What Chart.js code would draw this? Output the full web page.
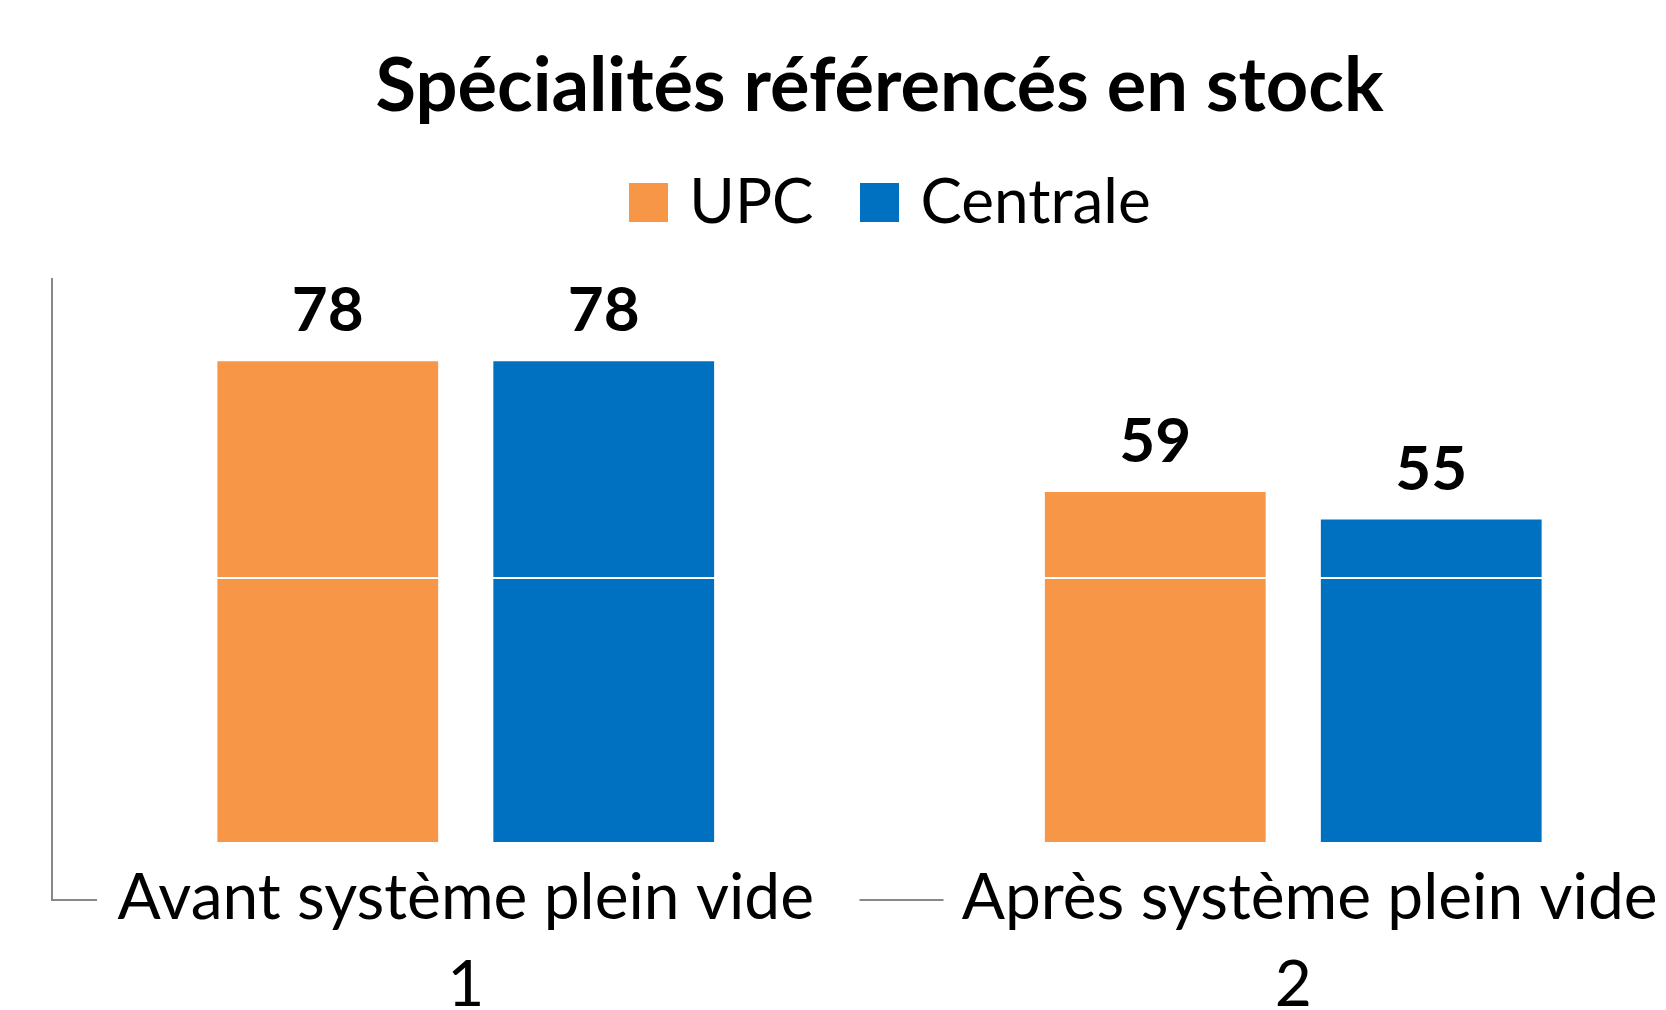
<!DOCTYPE html>
<html>
<head>
<meta charset="utf-8">
<script src="https://cdn.jsdelivr.net/npm/chart.js@4.4.0/dist/chart.umd.min.js"></script>
<style>
  html, body { margin: 0; padding: 0; background: #fff; overflow: hidden; }
  #wrap { width: 1666px; height: 1010px; overflow: hidden; }
</style>
</head>
<body>
<div id="wrap"><canvas id="stockChart" width="1760" height="1010"></canvas></div>
<script>
// data
const categories = [['Avant système plein vide', '1'], ['  Après système plein vide', '2']];
const seriesNames = ['UPC', 'Centrale'];
const seriesColors = ['#F79646', '#0070C0'];
const upcValues = [78, 59];
const centraleValues = [78, 55];
const gridValues = [8, 46.5, 85];

const FONT = 'Lato, "Open Sans", sans-serif';

// square legend markers (lets the text sit closer to the box)
function legendSquare(color) {
  const c = document.createElement('canvas');
  c.width = 39;
  c.height = 39;
  const g = c.getContext('2d');
  g.fillStyle = color;
  g.fillRect(0, 0, 39, 39);
  return c;
}
const legendMarks = seriesColors.map(legendSquare);

// value labels above the bars
const barLabels = {
  id: 'barLabels',
  afterDraw(chart) {
    const ctx = chart.ctx;
    ctx.save();
    ctx.font = 'bold 62px ' + FONT;
    ctx.fillStyle = '#000';
    ctx.textAlign = 'center';
    ctx.textBaseline = 'middle';
    chart.data.datasets.forEach((ds, i) => {
      chart.getDatasetMeta(i).data.forEach((bar, j) => {
        ctx.fillText(ds.data[j], bar.x, bar.y - 50);
      });
    });
    ctx.restore();
  }
};

// excel-like category separators under the axis
const separators = {
  id: 'separators',
  afterDraw(chart) {
    const { ctx, chartArea, scales: { x } } = chart;
    const yMid = chartArea.bottom + 57;
    const mid = (x.getPixelForValue(0) + x.getPixelForValue(1)) / 2;
    ctx.save();
    ctx.strokeStyle = '#888';
    ctx.lineWidth = 2;
    ctx.beginPath();
    ctx.moveTo(chartArea.left, chartArea.bottom);
    ctx.lineTo(chartArea.left, yMid);
    ctx.lineTo(chartArea.left + 45, yMid);
    ctx.moveTo(mid - 20, yMid);
    ctx.lineTo(mid + 64, yMid);
    ctx.stroke();
    ctx.restore();
  }
};

// more room between legend and plot, legend nudged a bit
const legendTweak = {
  id: 'legendTweak',
  beforeInit(chart) {
    const lg = chart.legend;
    const fit = lg.fit;
    const draw = lg.draw;
    lg.fit = function () {
      fit.call(lg);
      this.height += 19;
    };
    lg.draw = function () {
      chart.ctx.save();
      chart.ctx.translate(15, -16);
      draw.call(lg);
      chart.ctx.restore();
    };
  }
};

new Chart(document.getElementById('stockChart'), {
  type: 'bar',
  data: {
    labels: categories,
    datasets: [
      { label: seriesNames[0], data: upcValues, backgroundColor: seriesColors[0] },
      { label: seriesNames[1], data: centraleValues, backgroundColor: seriesColors[1] }
    ]
  },
  options: {
    responsive: false,
    devicePixelRatio: 1,
    animation: false,
    datasets: { bar: { categoryPercentage: 0.667, barPercentage: 0.8 } },
    layout: { padding: { left: 52, right: 53, top: 0, bottom: 0 } },
    plugins: {
      title: {
        display: true,
        text: 'Spécialités référencés en stock',
        color: '#000',
        font: { family: FONT, size: 74, weight: 'bold' },
        padding: { top: 43, bottom: 0 }
      },
      legend: {
        labels: {
          usePointStyle: true,
          boxWidth: 20,
          boxHeight: 39,
          color: '#000',
          font: { family: FONT, size: 62 },
          padding: 56,
          generateLabels(chart) {
            const items = Chart.defaults.plugins.legend.labels.generateLabels(chart);
            items.forEach((it, i) => { it.pointStyle = legendMarks[i]; });
            return items;
          }
        }
      },
      tooltip: { enabled: false }
    },
    scales: {
      x: {
        grid: { display: false },
        border: { display: false },
        ticks: { color: '#000', font: { family: FONT, size: 64, lineHeight: 1.36 }, padding: 4 },
        afterFit: s => { s.height = 167; }
      },
      y: {
        min: 8,
        max: 90,
        afterFit: s => { s.width = 0; },
        afterBuildTicks: s => { s.ticks = gridValues.map(v => ({ value: v })); },
        ticks: { display: false },
        grid: { color: '#fff', lineWidth: 2, drawTicks: false, z: 1 },
        border: { color: '#888', width: 2, z: 1 }
      }
    }
  },
  plugins: [barLabels, separators, legendTweak]
});
</script>
</body>
</html>
